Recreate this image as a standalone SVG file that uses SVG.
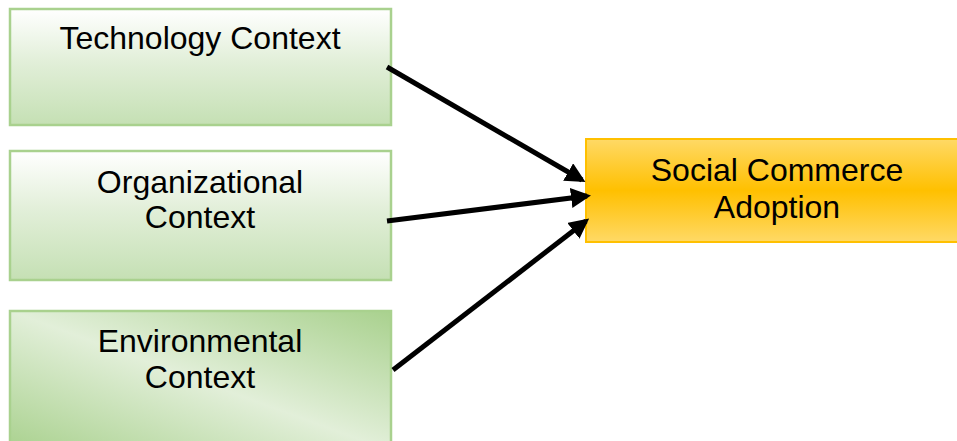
<svg xmlns="http://www.w3.org/2000/svg" width="957" height="441" viewBox="0 0 957 441">
<defs>
<linearGradient id="gV" x1="0" y1="0" x2="0" y2="1">
<stop offset="0" stop-color="#ffffff"/>
<stop offset="0.45" stop-color="#e2efd9"/>
<stop offset="1" stop-color="#c5e0b4"/>
</linearGradient>
<linearGradient id="gD" x1="0" y1="1" x2="1" y2="0">
<stop offset="0" stop-color="#a9d18e"/>
<stop offset="0.5" stop-color="#e2efd9"/>
<stop offset="1" stop-color="#a9d18e"/>
</linearGradient>
<linearGradient id="gY" x1="0" y1="0" x2="0" y2="1">
<stop offset="0" stop-color="#ffd966"/>
<stop offset="0.5" stop-color="#ffc000"/>
<stop offset="1" stop-color="#ffd966"/>
</linearGradient>
<marker id="ah" markerWidth="4" markerHeight="4" refX="3.2" refY="2" orient="auto" markerUnits="strokeWidth">
<path d="M0,0 L4,2 L0,4 z" fill="#000"/>
</marker>
<style>
.g{stroke:#a9d18e;stroke-width:2.5}
.t{font-family:"Liberation Sans",Arial,sans-serif;font-size:32px;fill:#000;text-anchor:middle}
.c{stroke:#000;stroke-width:5;fill:none;marker-end:url(#ah)}
</style>
</defs>
<g id="tech">
<rect class="g" x="10" y="9" width="381" height="116" fill="url(#gV)"/>
<text class="t" x="200" y="49">Technology Context</text>
</g>
<g id="org">
<rect class="g" x="10" y="151" width="381" height="129" fill="url(#gV)"/>
<text class="t" x="200" y="193">Organizational</text>
<text class="t" x="200" y="228">Context</text>
</g>
<g id="env">
<rect class="g" x="10" y="311" width="381" height="140" fill="url(#gD)"/>
<text class="t" x="200" y="352">Environmental</text>
<text class="t" x="200" y="388">Context</text>
</g>
<g id="sca">
<rect x="586" y="139" width="380" height="103" fill="url(#gY)" stroke="#ffc000" stroke-width="2"/>
<text class="t" x="777" y="181">Social Commerce</text>
<text class="t" x="777" y="218">Adoption</text>
</g>
<g id="connectors">
<line class="c" x1="387" y1="67" x2="582" y2="180"/>
<line class="c" x1="387" y1="221" x2="587" y2="196"/>
<line class="c" x1="393" y1="370" x2="586" y2="221"/>
</g>
</svg>
